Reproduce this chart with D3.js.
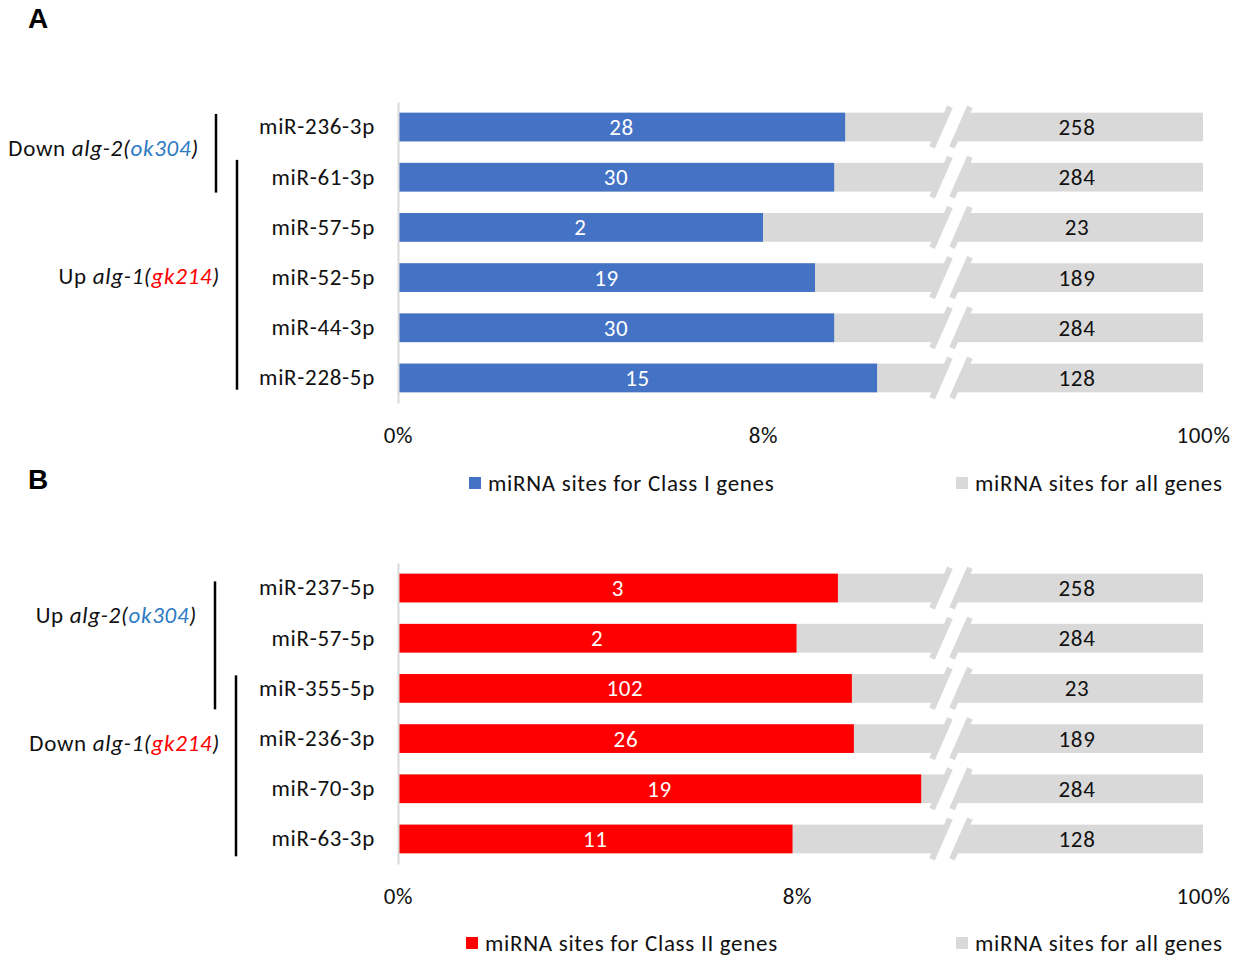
<!DOCTYPE html>
<html>
<head>
<meta charset="utf-8">
<script src="https://cdn.jsdelivr.net/npm/d3@7"></script>
<style>
  body { margin: 0; background: #fff; }
  svg text.lbl { font-family: Carlito, Lato, "Open Sans", sans-serif; letter-spacing: 0.7px; }
</style>
</head>
<body>
<svg id="chart" width="1244" height="956"></svg>
<script>
// ---- Panel A: Class I genes ----
const mirnasA      = ["miR-236-3p", "miR-61-3p", "miR-57-5p", "miR-52-5p", "miR-44-3p", "miR-228-5p"];
const classPctA    = [9.80, 9.56, 8.00, 9.14, 9.56, 10.50];   // % of sites, class I genes
const classCountA  = [28, 30, 2, 19, 30, 15];
const allCountA    = [258, 284, 23, 189, 284, 128];

// ---- Panel B: Class II genes ----
const mirnasB      = ["miR-237-5p", "miR-57-5p", "miR-355-5p", "miR-236-3p", "miR-70-3p", "miR-63-3p"];
const classPctB    = [8.82, 7.99, 9.10, 9.14, 10.49, 7.91];   // % of sites, class II genes
const classCountB  = [3, 2, 102, 26, 19, 11];
const allCountB    = [258, 284, 23, 189, 284, 128];

// share of all-gene sites (the grey bar always reaches the top of the axis)
const allPct = 100;

// axis ticks
const tickValues = [0, 8, 100];
const tickLabels = ["0%", "8%", "100%"];

// legend entries
const legendA = ["miRNA sites for Class I genes", "miRNA sites for all genes"];
const legendB = ["miRNA sites for Class II genes", "miRNA sites for all genes"];

// strain groups drawn as brackets to the left of each panel
const groupsA = [
  { parts: [["Down ", "n"], ["alg-2(", "i"], ["ok304", "ib"], [")", "i"]], labelRow: 0.42, right: 199,
    x: 216, fromRow: 0, fromOff: 1.3, toRow: 1, toOff: 1 },
  { parts: [["Up ", "n"], ["alg-1(", "i"], ["gk214", "ir"], [")", "i"]], labelRow: 2.97, right: 220,
    x: 237, fromRow: 1, fromOff: -3, toRow: 5, toOff: -2.6 }
];
const groupsB = [
  { parts: [["Up ", "n"], ["alg-2(", "i"], ["ok304", "ib"], [")", "i"]], labelRow: 0.54, right: 197,
    x: 215, fromRow: 0, fromOff: 7.7, toRow: 2, toOff: 6.6 },
  { parts: [["Down ", "n"], ["alg-1(", "i"], ["gk214", "ir"], [")", "i"]], labelRow: 3.09, right: 220,
    x: 236, fromRow: 2, fromOff: 1.3, toRow: 5, toOff: 3 }
];

const GREY = "#d9d9d9";
const TEXT = "#111111";
const FS = 23;

const svg = d3.select("#chart");

const panels = [
  { letter: "A", letterY: 28, top: 102, bottom: 403, x8: 763, color: "#4472c4",
    mirnas: mirnasA, pct: classPctA, counts: classCountA, totals: allCountA,
    legend: legendA, legendY: 483, legendX: [469, 956], groups: groupsA, tickY: 435 },
  { letter: "B", letterY: 489, top: 563, bottom: 864, x8: 797, color: "#ff0000",
    mirnas: mirnasB, pct: classPctB, counts: classCountB, totals: allCountB,
    legend: legendB, legendY: 943, legendX: [466, 956], groups: groupsB, tickY: 896 }
];

const X0 = 398, XBREAK = 951, X100 = 1203;

panels.forEach(p => {
  const g = svg.append("g");

  // broken x axis: linear 0–8% up to the break, compressed beyond it
  const breakPct = 8 * (XBREAK - X0) / (p.x8 - X0);
  const x = d3.scaleLinear().domain([0, 8, breakPct, allPct]).range([X0, p.x8, XBREAK, X100]);

  const y = d3.scaleBand().domain(p.mirnas).range([p.top, p.bottom])
    .paddingInner(0.428).paddingOuter(0.213);
  const bw = y.bandwidth();
  const step = y.step();
  const firstCenter = y(p.mirnas[0]) + bw / 2;

  const rows = p.mirnas.map((m, i) => ({ m, pct: p.pct[i], n: p.counts[i], total: p.totals[i] }));

  // grey bars (all genes)
  g.selectAll(".all").data(rows).join("rect")
    .attr("x", x(0)).attr("y", d => y(d.m))
    .attr("width", x(allPct) - x(0)).attr("height", bw)
    .attr("fill", GREY);

  // coloured bars (class genes)
  g.selectAll(".cls").data(rows).join("rect")
    .attr("x", x(0)).attr("y", d => y(d.m))
    .attr("width", d => x(d.pct) - x(0)).attr("height", bw)
    .attr("fill", p.color);

  // axis-break symbol on each grey bar
  const slope = 0.44, half = 10, ext = 6;
  rows.forEach(d => {
    const yc = y(d.m) + bw / 2;
    const yt = y(d.m), yb = y(d.m) + bw;
    const xAt = (yy, off) => XBREAK + off - (yy - yc) * slope;
    g.append("path")
      .attr("d", `M${xAt(yt - 1, -half)},${yt - 1}L${xAt(yt - 1, half)},${yt - 1}` +
                 `L${xAt(yb + 1, half)},${yb + 1}L${xAt(yb + 1, -half)},${yb + 1}Z`)
      .attr("fill", "#fff");
    [-half, half].forEach(off => {
      g.append("line")
        .attr("x1", xAt(yt - ext, off)).attr("y1", yt - ext)
        .attr("x2", xAt(yb + ext, off)).attr("y2", yb + ext)
        .attr("stroke", GREY).attr("stroke-width", 6);
    });
  });

  // value labels
  g.selectAll(".nlab").data(rows).join("text").attr("class", "lbl")
    .attr("x", d => (x(0) + x(d.pct)) / 2).attr("y", d => y(d.m) + bw / 2)
    .attr("dy", "0.35em").attr("text-anchor", "middle")
    .attr("fill", "#fff").attr("font-size", FS).text(d => d.n);

  g.selectAll(".tlab").data(rows).join("text").attr("class", "lbl")
    .attr("x", x((breakPct + allPct) / 2)).attr("y", d => y(d.m) + bw / 2)
    .attr("dy", "0.35em").attr("text-anchor", "middle")
    .attr("fill", TEXT).attr("font-size", FS).text(d => d.total);

  // category axis
  const yAxis = g.append("g").attr("transform", `translate(${X0},0)`)
    .call(d3.axisLeft(y).tickSize(0).tickSizeOuter(0).tickPadding(23));
  yAxis.attr("font-family", null);
  yAxis.select(".domain").attr("stroke", GREY).attr("stroke-width", 2);
  yAxis.selectAll("text").attr("class", "lbl").attr("font-size", FS).attr("fill", TEXT);

  // value axis labels
  const xAxis = g.append("g").attr("transform", `translate(0,${p.tickY})`)
    .call(d3.axisBottom(x).tickValues(tickValues).tickFormat((d, i) => tickLabels[i])
      .tickSize(0).tickPadding(0));
  xAxis.attr("font-family", null);
  xAxis.select(".domain").remove();
  xAxis.selectAll("text").attr("class", "lbl").attr("y", 0).attr("dy", "0.35em")
    .attr("font-size", FS).attr("fill", TEXT);

  // legend
  [p.color, GREY].forEach((c, i) => {
    const lx = p.legendX[i];
    g.append("rect").attr("x", lx).attr("y", p.legendY - 6).attr("width", 12).attr("height", 12).attr("fill", c);
    g.append("text").attr("class", "lbl").attr("x", lx + 19).attr("y", p.legendY).attr("dy", "0.35em")
      .attr("font-size", FS).attr("fill", TEXT).text(p.legend[i]);
  });

  // strain brackets and labels
  p.groups.forEach(gr => {
    const y1 = y(p.mirnas[gr.fromRow]) + gr.fromOff;
    const y2 = y(p.mirnas[gr.toRow]) + bw + gr.toOff;
    g.append("line").attr("x1", gr.x).attr("x2", gr.x).attr("y1", y1).attr("y2", y2)
      .attr("stroke", "#000").attr("stroke-width", 2.5);
    const t = g.append("text").attr("class", "lbl").attr("x", gr.right).attr("y", firstCenter + gr.labelRow * step)
      .attr("dy", "0.35em").attr("text-anchor", "end").attr("font-size", FS).attr("fill", TEXT);
    gr.parts.forEach(([s, st]) => {
      const ts = t.append("tspan").text(s);
      if (st !== "n") ts.attr("font-style", "italic");
      if (st === "ib") ts.attr("fill", "#2e7bc4");
      if (st === "ir") ts.attr("fill", "#ff0000");
    });
  });

  // panel letter
  svg.append("text").attr("x", 28).attr("y", p.letterY)
    .attr("font-size", 28).attr("font-weight", "bold").attr("fill", "#000")
    .style("font-family", "'Liberation Sans', Arial, sans-serif")
    .text(p.letter);
});
</script>
</body>
</html>
